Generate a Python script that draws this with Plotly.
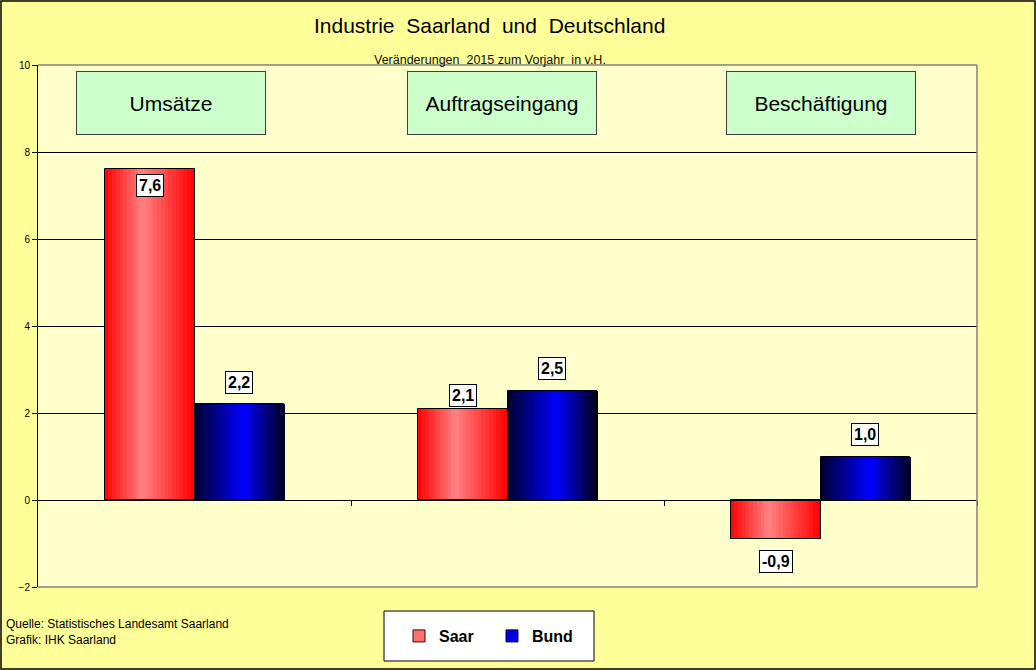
import plotly.graph_objects as go

# Data (Veränderungen 2015 zum Vorjahr in v.H.)
categories = ['Umsätze', 'Auftragseingang', 'Beschäftigung']
saar = [7.6, 2.1, -0.9]
bund = [2.2, 2.5, 1.0]
y_ticks = [-2, 0, 2, 4, 6, 8, 10]

FONT = 'Arial, Liberation Sans, sans-serif'
BAR_W = 0.2875
N_STRIPS = 24


def fmt(v):
    return f'{v:.1f}'.replace('.', ',')


def blend(stops, t):
    # linear interpolation between colour stops -> rgb string
    for (t0, c0), (t1, c1) in zip(stops, stops[1:]):
        if t0 <= t <= t1:
            f = (t - t0) / (t1 - t0) if t1 > t0 else 0
            c = [round(a + (b - a) * f) for a, b in zip(c0, c1)]
            return f'rgb({c[0]},{c[1]},{c[2]})'
    return f'rgb{stops[-1][1]}'


saar_stops = [(0, (255, 0, 0)), (0.42, (255, 130, 130)), (0.95, (255, 10, 10)), (1, (255, 0, 0))]
bund_stops = [(0, (0, 0, 45)), (0.55, (0, 0, 255)), (1, (0, 0, 25))]

x = list(range(len(categories)))
fig = go.Figure()

# gradient bars built from thin strips of the same values
for vals, stops, start in [(saar, saar_stops, -BAR_W), (bund, bund_stops, 0)]:
    sw = BAR_W / N_STRIPS
    for k in range(N_STRIPS):
        fig.add_trace(go.Bar(x=x, y=vals, width=sw * 1.05, offset=start + k * sw,
                             marker=dict(color=blend(stops, (k + 0.5) / N_STRIPS), line=dict(width=0)),
                             showlegend=False, hoverinfo='skip'))
    fig.add_trace(go.Bar(x=x, y=vals, width=BAR_W, offset=start,
                         marker=dict(color='rgba(0,0,0,0)', line=dict(color='black', width=1)),
                         showlegend=False, hoverinfo='skip'))

# legend entries
fig.add_trace(go.Bar(x=[None], y=[None], name='Saar',
                     marker=dict(color='#FF7070', line=dict(color='#400000', width=1))))
fig.add_trace(go.Bar(x=[None], y=[None], name='Bund',
                     marker=dict(color='#0000E0', line=dict(color='#000030', width=1))))

# value labels
label_shift = {'saar': [-16, 13, -22], 'bund': [22, 23, 22]}
for vals, off, key in [(saar, -BAR_W / 2, 'saar'), (bund, BAR_W / 2, 'bund')]:
    for i, v in enumerate(vals):
        fig.add_annotation(x=i + off, y=v, text=f'<b>{fmt(v)}</b>', showarrow=False,
                           yshift=label_shift[key][i], bgcolor='white', bordercolor='black',
                           borderwidth=1, borderpad=2, font=dict(family=FONT, size=16, color='black'))

# category boxes
box_shift = [-0.075, -0.018, 0.003]
for i, c in enumerate(categories):
    fig.add_annotation(x=i + box_shift[i], y=9.13, text=c, showarrow=False, width=186, height=60,
                       bgcolor='#CCFFCC', bordercolor='#404040', borderwidth=1,
                       font=dict(family=FONT, size=21, color='black'))

# titles and source
fig.add_annotation(x=0.481, y=(587 - 25) / 522, xref='paper', yref='paper', showarrow=False,
                   yanchor='middle',
                   text='Industrie\u00a0\u00a0Saarland\u00a0\u00a0und\u00a0\u00a0Deutschland',
                   font=dict(family=FONT, size=21, color='black'))
fig.add_annotation(x=0.481, y=(587 - 60) / 522, xref='paper', yref='paper', showarrow=False,
                   yanchor='middle',
                   text='Veränderungen\u00a0\u00a02015 zum Vorjahr\u00a0 in v.H.',
                   font=dict(family=FONT, size=12.5, color='#101010'))
fig.add_annotation(x=(4 - 38) / 939, y=(587 - 615) / 522, xref='paper', yref='paper',
                   xanchor='left', yanchor='top', align='left', showarrow=False,
                   text='Quelle: Statistisches Landesamt Saarland<br>Grafik: IHK Saarland',
                   font=dict(family=FONT, size=12, color='black'))

# plot-area border (top, right, bottom in grey), legend box and outer frame
for x0, y0, x1, y1 in [(0, 1, 1, 1), (1, 0, 1, 1), (0, 0, 1, 0)]:
    fig.add_shape(type='line', xref='paper', yref='paper', x0=x0, y0=y0, x1=x1, y1=y1,
                  line=dict(color='#808080', width=1.5))
fig.add_shape(type='rect', xref='paper', yref='paper', layer='below',
              x0=(384 - 38) / 939, x1=(594 - 38) / 939, y0=(587 - 661) / 522, y1=(587 - 611) / 522,
              fillcolor='white', line=dict(color='black', width=1))
fig.add_shape(type='rect', xref='paper', yref='paper',
              x0=(1 - 38) / 939, x1=(1035 - 38) / 939, y0=(587 - 669) / 522, y1=(587 - 1) / 522,
              line=dict(color='black', width=1.5))

fig.update_layout(
    width=1036, height=670,
    margin=dict(l=38, r=59, t=65, b=83),
    paper_bgcolor='#FFFF99', plot_bgcolor='#FFFFCC',
    barmode='overlay', bargap=0,
    font=dict(family=FONT, color='black'),
    showlegend=True,
    legend=dict(orientation='h', x=(492 - 38) / 939, y=(587 - 636) / 522,
                xanchor='center', yanchor='middle', bgcolor='rgba(0,0,0,0)',
                font=dict(family=FONT, size=16, color='black', weight='bold'),
                itemwidth=30, entrywidth=48),
    xaxis=dict(range=[-0.5, 2.5], anchor='free', position=1 / 6, showline=True,
               linecolor='black', linewidth=1, showgrid=False, zeroline=False,
               tickvals=[0.5, 1.5, 2.5], ticks='outside', ticklen=5, tickcolor='black',
               showticklabels=False, fixedrange=True),
    yaxis=dict(range=[-2, 10], tickvals=y_ticks, showline=True, linecolor='black',
               linewidth=1, ticks='outside', ticklen=5, tickcolor='black',
               showgrid=True, gridcolor='black', gridwidth=1, zeroline=True,
               zerolinecolor='black', zerolinewidth=1,
               tickfont=dict(family=FONT, size=10, color='black')),
)

fig.write_html('out.html', config={'displayModeBar': False},
               post_script="document.body.style.margin='0';")
